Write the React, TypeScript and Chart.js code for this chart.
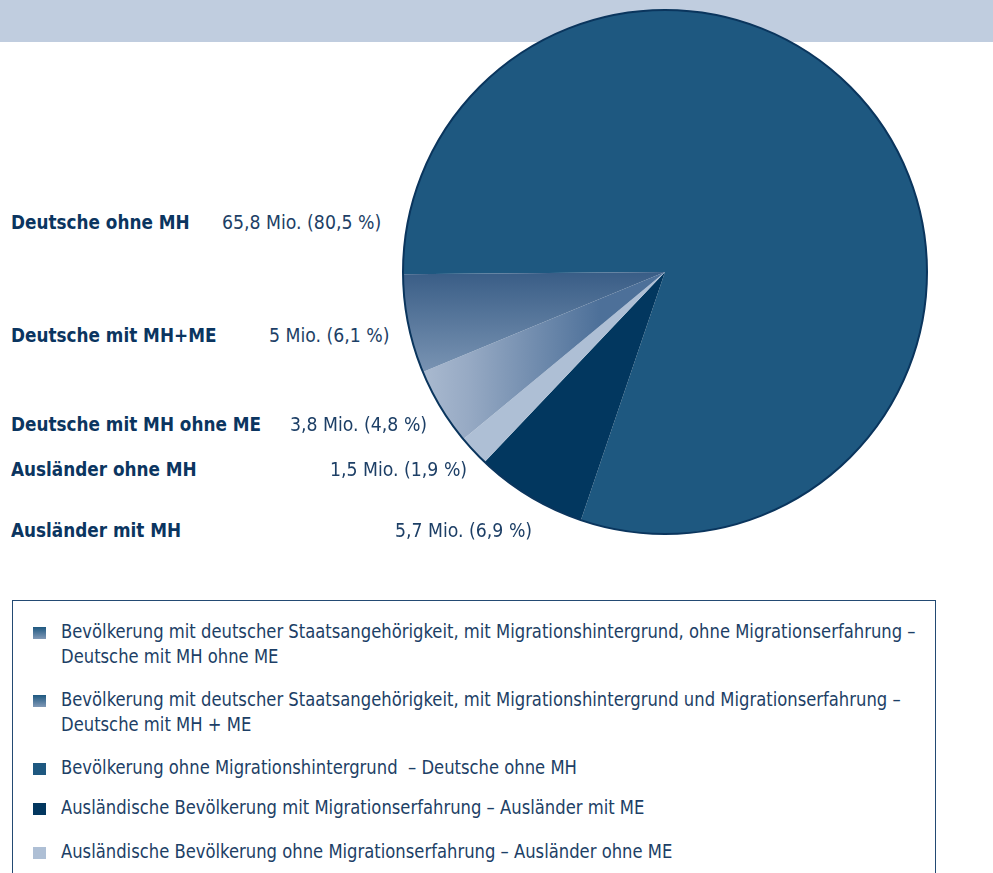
import React, { useEffect, useRef } from "react";
import { Chart, registerables } from "chart.js";

Chart.register(...registerables);

// ---- data ----
const categories = [
  "Deutsche ohne MH",
  "Ausländer mit MH",
  "Ausländer ohne MH",
  "Deutsche mit MH ohne ME",
  "Deutsche mit MH+ME",
];
const mioValues = [65.8, 5.7, 1.5, 3.8, 5];
const percentValues = [80.5, 6.9, 1.9, 4.8, 6.1];

const labelOrder = [
  "Deutsche ohne MH",
  "Deutsche mit MH+ME",
  "Deutsche mit MH ohne ME",
  "Ausländer ohne MH",
  "Ausländer mit MH",
];

const legendTexts = [
  [
    "Bevölkerung mit deutscher Staatsangehörigkeit, mit Migrationshintergrund, ohne Migrationserfahrung –",
    "Deutsche mit MH ohne ME",
  ],
  [
    "Bevölkerung mit deutscher Staatsangehörigkeit, mit Migrationshintergrund und Migrationserfahrung –",
    "Deutsche mit MH + ME",
  ],
  ["Bevölkerung ohne Migrationshintergrund  – Deutsche ohne MH"],
  ["Ausländische Bevölkerung mit Migrationserfahrung – Ausländer mit ME"],
  ["Ausländische Bevölkerung ohne Migrationserfahrung – Ausländer ohne ME"],
];

// ---- styles ----
const FONT = '"DejaVu Sans Condensed", "Liberation Sans Narrow", sans-serif';
const C_MAIN = "#1e5880";
const C_NAVY = "#02375f";
const C_LIGHT = "#aebfd5";
const TEXT = "#1d3f66";
const BOLD = "#0b3560";

const fmt = (v: number) => String(v).replace(".", ",");

const labelPos: Record<string, { y: number; vx: number }> = {
  "Deutsche ohne MH": { y: 222, vx: 222 },
  "Deutsche mit MH+ME": { y: 335, vx: 269 },
  "Deutsche mit MH ohne ME": { y: 424, vx: 290 },
  "Ausländer ohne MH": { y: 469, vx: 330 },
  "Ausländer mit MH": { y: 530, vx: 395 },
};

const legendTops = [619, 687, 755, 795, 839];
const legendSwatch = [
  "linear-gradient(#1e5880, #8199b7)",
  "linear-gradient(#1e5880, #8199b7)",
  C_MAIN,
  C_NAVY,
  C_LIGHT,
];

export default function App() {
  const ref = useRef<HTMLCanvasElement | null>(null);

  useEffect(() => {
    if (!ref.current) return;
    const outline = {
      id: "outline",
      afterDatasetsDraw(chart: any) {
        const arc = chart.getDatasetMeta(0).data[0];
        if (!arc) return;
        const ctx = chart.ctx;
        ctx.save();
        ctx.beginPath();
        ctx.arc(arc.x, arc.y, arc.outerRadius, 0, Math.PI * 2);
        ctx.strokeStyle = "#0a355d";
        ctx.lineWidth = 2;
        ctx.stroke();
        ctx.restore();
      },
    };
    const chart = new Chart(ref.current, {
      type: "pie",
      data: {
        labels: categories,
        datasets: [
          {
            data: percentValues,
            borderWidth: 0,
            backgroundColor: (c: any) => {
              const chartRef = c.chart;
              const area = chartRef.chartArea;
              const fallback = [C_MAIN, C_NAVY, C_LIGHT, "#7f97b5", "#5a7aa0"][c.dataIndex];
              if (!area) return fallback;
              const cx = (area.left + area.right) / 2;
              const cy = (area.top + area.bottom) / 2;
              const r = Math.min(area.right - area.left, area.bottom - area.top) / 2;
              const ctx = chartRef.ctx;
              if (c.dataIndex === 4) {
                const g = ctx.createLinearGradient(0, cy, 0, cy + r * 0.39);
                g.addColorStop(0, "#395d86");
                g.addColorStop(1, "#7b95b4");
                return g;
              }
              if (c.dataIndex === 3) {
                const g = ctx.createLinearGradient(cx - r * 0.92, 0, cx - r * 0.25, 0);
                g.addColorStop(0, "#a9b9cf");
                g.addColorStop(0.25, "#97aac4");
                g.addColorStop(1, "#4d7099");
                return g;
              }
              return fallback;
            },
          },
        ],
      },
      options: {
        animation: false,
        responsive: false,
        rotation: 269.5,
        layout: { padding: 10 },
        plugins: { legend: { display: false }, tooltip: { enabled: false } },
      },
      plugins: [outline],
    });
    return () => chart.destroy();
  }, []);

  const txt = (scale: number): React.CSSProperties => ({
    transform: `scaleX(${scale})`,
    transformOrigin: "0 50%",
    whiteSpace: "pre",
  });

  return (
    <div
      style={{
        position: "absolute",
        left: 0,
        top: 0,
        width: 993,
        height: 873,
        overflow: "hidden",
        background: "#fff",
        fontFamily: FONT,
      }}
    >
      <div style={{ position: "absolute", left: 0, top: 0, width: 993, height: 42, background: "#c0cddf" }} />
      <canvas
        ref={ref}
        width={544}
        height={544}
        style={{ position: "absolute", left: 393, top: 0, width: 544, height: 544 }}
      />
      {labelOrder.map((name) => {
        const i = categories.indexOf(name);
        const p = labelPos[name];
        return (
          <React.Fragment key={name}>
            <div
              style={{
                position: "absolute",
                left: 11,
                top: p.y - 13,
                fontSize: 20,
                lineHeight: "26px",
                fontWeight: "bold",
                color: BOLD,
                ...txt(0.937),
              }}
            >
              {name}
            </div>
            <div
              style={{
                position: "absolute",
                left: p.vx,
                top: p.y - 13,
                fontSize: 20,
                lineHeight: "26px",
                color: TEXT,
                ...txt(0.963),
              }}
            >
              {`${fmt(mioValues[i])} Mio. (${fmt(percentValues[i])} %)`}
            </div>
          </React.Fragment>
        );
      })}
      <div
        style={{
          position: "absolute",
          left: 12,
          top: 600,
          width: 924,
          height: 320,
          border: "1.5px solid #234a73",
          boxSizing: "border-box",
        }}
      />
      {legendTexts.map((lines, k) => (
        <React.Fragment key={k}>
          <div
            style={{
              position: "absolute",
              left: 33,
              top: legendTops[k] + 8,
              width: 13,
              height: 12,
              background: legendSwatch[k],
            }}
          />
          <div
            style={{
              position: "absolute",
              left: 61,
              top: legendTops[k],
              fontSize: 19,
              lineHeight: "25px",
              color: TEXT,
              ...txt(0.96),
            }}
          >
            {lines.map((l, j) => (
              <div key={j}>{l}</div>
            ))}
          </div>
        </React.Fragment>
      ))}
    </div>
  );
}
